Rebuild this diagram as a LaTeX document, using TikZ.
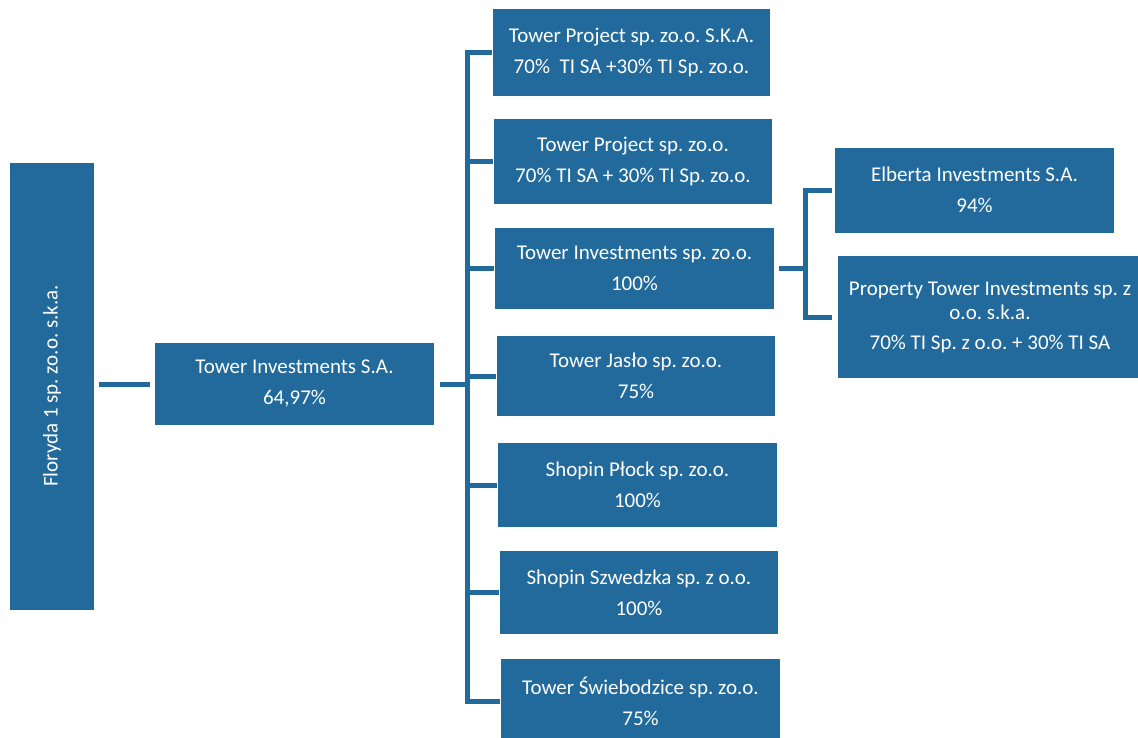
\documentclass[tikz,border=0pt]{standalone}
\usepackage{fontspec}
\setmainfont{Carlito}
\frenchspacing
\definecolor{tblue}{RGB}{34,106,155}
\begin{document}
\begin{tikzpicture}[x=1pt,y=-1pt,
  box/.style={fill=tblue, text=white, align=center, inner sep=0pt, font=\fontsize{21}{31}\selectfont},
  conn/.style={draw=tblue, line width=5pt},
  lbl/.style={text=white, align=center, inner sep=0pt}]
\useasboundingbox (0,0) rectangle (1138,737);
\clip (0,0) rectangle (1138,737);
% root
\node[box, minimum width=84pt, minimum height=447pt] (flo) at (52,386) {};
\node[lbl, rotate=90, font=\fontsize{21}{24}\selectfont] (flot) at (flo.center) {Floryda 1 sp. zo.o. s.k.a.};
\node[box, minimum width=279pt, minimum height=82pt] (ti) at (294.5,384) {Tower Investments S.A.\\64,97\%};
% level 2
\node[box, minimum width=277pt, minimum height=87pt] (b1) at (631.5,52.5) {Tower Project sp. zo.o. S.K.A.\\70\%~ TI SA +30\% TI Sp. zo.o.};
\node[box, minimum width=278pt, minimum height=85pt] (b2) at (633,161.5) {Tower Project sp. zo.o.\\70\% TI SA + 30\% TI Sp. zo.o.};
\node[box, minimum width=279pt, minimum height=81pt] (b3) at (634.5,268.5) {Tower Investments sp. zo.o.\\100\%};
\node[box, minimum width=278pt, minimum height=80pt] (b4) at (636,376) {Tower Jasło sp. zo.o.\\75\%};
\node[box, minimum width=279pt, minimum height=84pt] (b5) at (637.5,485) {Shopin Płock sp. zo.o.\\100\%};
\node[box, minimum width=278pt, minimum height=83pt] (b6) at (639,592.5) {Shopin Szwedzka sp. z o.o.\\100\%};
\node[box, minimum width=279pt, minimum height=84pt] (b7) at (640.5,701) {Tower Świebodzice sp. zo.o.\\75\%};
% level 3
\node[box, minimum width=279pt, minimum height=85pt] (c1) at (974.5,190) {Elberta Investments S.A.\\94\%};
\node[box, minimum width=307pt, minimum height=122pt] (c2) at (991.5,317) {};
\node[lbl, font=\fontsize{21}{24}\selectfont] (c2t) at (990,317) {Property Tower Investments sp. z\\o.o. s.k.a.\\[6pt]70\% TI Sp. z o.o. + 30\% TI SA};
% connectors
\draw[conn] ([xshift=-5pt]ti.west) -- ([xshift=5pt]flo.east |- ti.west);
\coordinate (tr) at (467,384);
\draw[conn] ([xshift=6pt]ti.east) -- (tr);
\draw[conn] (tr |- b1.west) -- (tr |- b7.west);
\foreach \b in {b1,b2,b3,b4,b5,b6,b7}
  \draw[conn] ([xshift=-2.5pt]tr |- \b.west) -- ([xshift=-1pt]\b.west);
\coordinate (tr2) at (805,268.5);
\draw[conn] ([xshift=5pt]b3.east) -- ([xshift=2.5pt]tr2);
\draw[conn] (tr2 |- c1.west) -- (tr2 |- c2.west);
\draw[conn] ([xshift=-2.5pt]tr2 |- c1.west) -- ([xshift=-3pt]c1.west);
\draw[conn] ([xshift=-2.5pt]tr2 |- c2.west) -- ([xshift=-6pt]c2.west);
\end{tikzpicture}
\end{document}
